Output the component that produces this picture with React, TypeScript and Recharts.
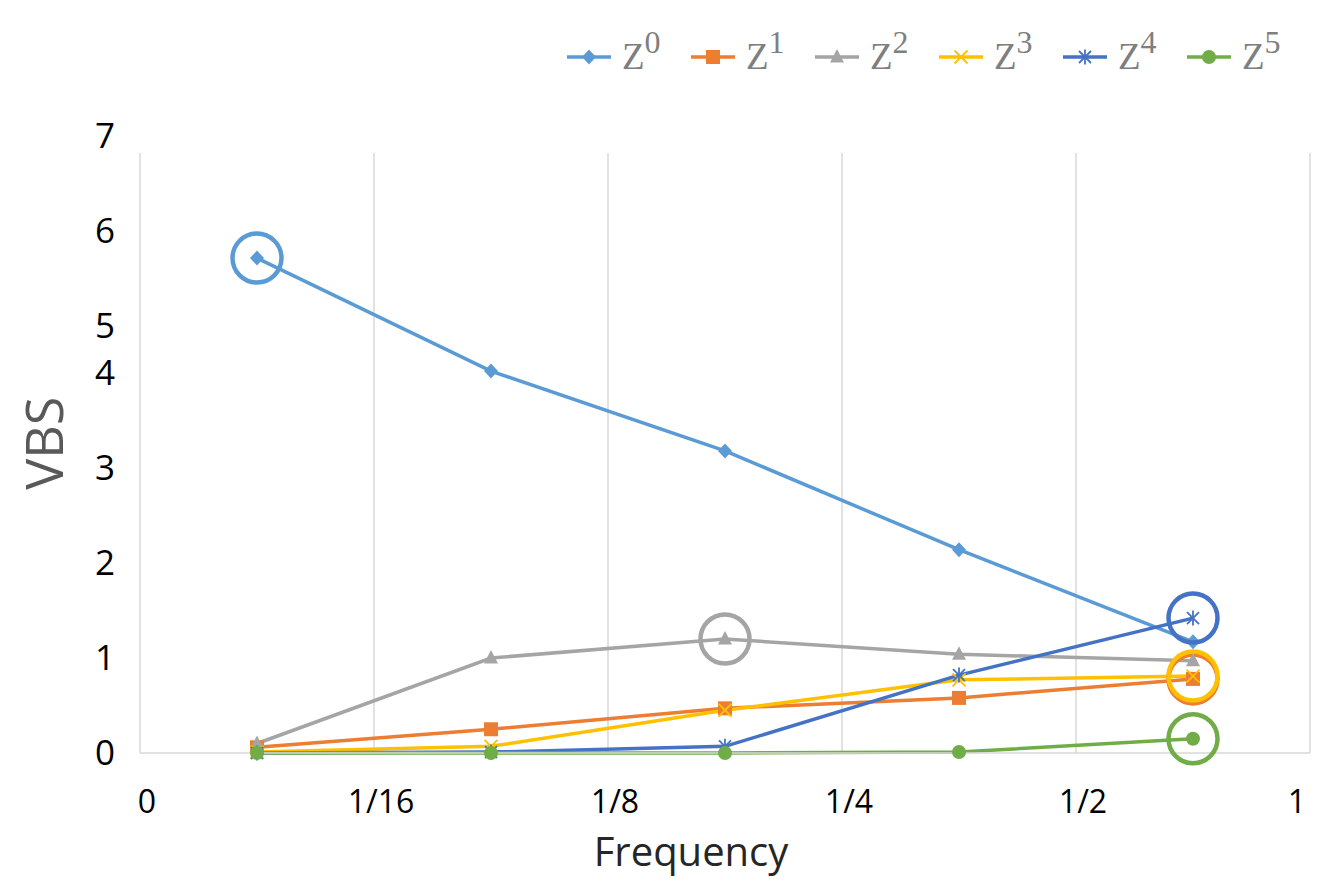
import { CartesianGrid, Label, Legend, Line, LineChart, XAxis, YAxis } from "recharts";

// band boundaries on the x axis (points sit in the middle of each band)
const xLabels = ["0", "1/16", "1/8", "1/4", "1/2", "1"];
const yTicks = [0, 1, 2, 3, 4, 4.5, 5.5, 6.5];
const yLabels = ["0", "1", "2", "3", "4", "5", "6", "7"];

const z0 = [5.21, 4.02, 3.18, 2.14, 1.17];
const z1 = [0.06, 0.25, 0.47, 0.58, 0.78];
const z2 = [0.1, 1.0, 1.2, 1.04, 0.97];
const z3 = [0.01, 0.07, 0.45, 0.77, 0.81];
const z4 = [0.0, 0.01, 0.07, 0.82, 1.42];
const z5 = [0.0, 0.0, 0.0, 0.01, 0.15];

// index of the point that gets a ring around it
const highlight = [0, 4, 2, 4, 4, 4];

const SERIES = [
  { key: "z0", power: "0", color: "#5B9BD5", marker: "diamond", values: z0 },
  { key: "z1", power: "1", color: "#ED7D31", marker: "square", values: z1 },
  { key: "z2", power: "2", color: "#A5A5A5", marker: "triangle", values: z2 },
  { key: "z3", power: "3", color: "#FFC000", marker: "x", values: z3 },
  { key: "z4", power: "4", color: "#4472C4", marker: "star", values: z4 },
  { key: "z5", power: "5", color: "#70AD47", marker: "circle", values: z5 },
];

const rows = z0.map((_, i) => {
  const row: Record<string, number> = { x: i + 0.5 };
  SERIES.forEach((s) => (row[s.key] = s.values[i]));
  return row;
});

const FONT = "'Open Sans', 'DejaVu Sans', sans-serif";

function Marker({ cx, cy, kind, color }: { cx: number; cy: number; kind: string; color: string }) {
  switch (kind) {
    case "diamond":
      return <polygon points={`${cx},${cy - 7.5} ${cx + 7},${cy} ${cx},${cy + 7.5} ${cx - 7},${cy}`} fill={color} />;
    case "square":
      return <rect x={cx - 7} y={cy - 7} width={14} height={14} fill={color} />;
    case "triangle":
      return <polygon points={`${cx},${cy - 8} ${cx + 7},${cy + 5.5} ${cx - 7},${cy + 5.5}`} fill={color} />;
    case "x":
      return (
        <g stroke={color} strokeWidth={1.8}>
          <line x1={cx - 6.5} y1={cy - 6.5} x2={cx + 6.5} y2={cy + 6.5} />
          <line x1={cx - 6.5} y1={cy + 6.5} x2={cx + 6.5} y2={cy - 6.5} />
        </g>
      );
    case "star":
      return (
        <g stroke={color} strokeWidth={1.8}>
          <line x1={cx - 6} y1={cy - 6} x2={cx + 6} y2={cy + 6} />
          <line x1={cx - 6} y1={cy + 6} x2={cx + 6} y2={cy - 6} />
          <line x1={cx} y1={cy - 7.5} x2={cx} y2={cy + 7.5} />
        </g>
      );
    default:
      return <circle cx={cx} cy={cy} r={7} fill={color} />;
  }
}

function makeDot(kind: string, color: string, ringAt: number) {
  return (props: any) => {
    const { cx, cy, index } = props;
    return (
      <g key={`dot-${kind}-${index}`}>
        <Marker cx={cx} cy={cy} kind={kind} color={color} />
        {index === ringAt && <circle cx={cx} cy={cy} r={24.5} fill="none" stroke={color} strokeWidth={4.5} />}
      </g>
    );
  };
}

function XTick({ x, y, payload }: any) {
  const last = payload.value === xLabels.length - 1;
  return (
    <text
      x={last ? x - 4 : x + 7}
      y={y}
      dy="0.71em"
      textAnchor={last ? "end" : "middle"}
      fontSize={32}
      fill="#000"
      fontFamily={FONT}
    >
      {xLabels[payload.value]}
    </text>
  );
}

function YTick({ x, y, payload }: any) {
  return (
    <text x={x} y={y} dy="0.355em" textAnchor="end" fontSize={35} fill="#000" fontFamily={FONT}>
      {yLabels[yTicks.indexOf(payload.value)]}
    </text>
  );
}

function LegendRow() {
  return (
    <div style={{ display: "flex", gap: 29 }}>
      {SERIES.map((s) => (
        <svg key={s.key} width={95} height={50} style={{ overflow: "visible" }}>
          <line x1={0} y1={27} x2={44} y2={27} stroke={s.color} strokeWidth={3.5} />
          <Marker cx={22} cy={27} kind={s.marker} color={s.color} />
          <text x={55} y={39} fontFamily="'Liberation Serif', 'Times New Roman', serif" fontSize={37} fill="#7f7f7f">
            <tspan>Z</tspan>
            <tspan dy={-16} fontSize={32}>{s.power}</tspan>
          </text>
        </svg>
      ))}
    </div>
  );
}

export default function App() {
  return (
    <div style={{ width: 1317, height: 873, position: "relative" }}>
      <LineChart width={1317} height={873} data={rows} margin={{ top: 127.5, right: 15, bottom: 0, left: 0 }}>
        <CartesianGrid horizontal={false} stroke="#d9d9d9" strokeWidth={1.5} y={145} height={600} />
        <XAxis
          dataKey="x"
          type="number"
          domain={[0, 5]}
          ticks={[0, 1, 2, 3, 4, 5]}
          height={128}
          axisLine={{ stroke: "#d9d9d9", strokeWidth: 1.5 }}
          tickLine={false}
          tickSize={0}
          tickMargin={37}
          tick={<XTick />}
        >
          <Label
            content={({ viewBox }: any) => (
              <text
                x={viewBox.x + viewBox.width / 2 - 34}
                y={viewBox.y + 113}
                textAnchor="middle"
                fontSize={40}
                fill="#262626"
                fontFamily={FONT}
              >
                Frequency
              </text>
            )}
          />
        </XAxis>
        <YAxis
          type="number"
          domain={[0, 6.5]}
          ticks={yTicks}
          width={132}
          axisLine={false}
          tickLine={false}
          tickSize={0}
          tickMargin={25}
          tick={<YTick />}
        >
          <Label
            content={({ viewBox }: any) => {
              const cx = viewBox.x + 36;
              const cy = viewBox.y + viewBox.height / 2 - 1;
              return (
                <text
                  x={cx}
                  y={cy}
                  dy="0.36em"
                  transform={`rotate(-90, ${cx}, ${cy})`}
                  textAnchor="middle"
                  fontSize={52}
                  fill="#595959"
                  fontFamily={FONT}
                >
                  VBS
                </text>
              );
            }}
          />
        </YAxis>
        <Legend
          layout="horizontal"
          verticalAlign="middle"
          align="center"
          wrapperStyle={{ top: 22, left: 559, width: "auto" }}
          content={() => <LegendRow />}
        />
        {SERIES.map((s, i) => (
          <Line
            key={s.key}
            type="linear"
            dataKey={s.key}
            stroke={s.color}
            strokeWidth={3.5}
            dot={makeDot(s.marker, s.color, highlight[i])}
            activeDot={false}
            isAnimationActive={false}
          />
        ))}
      </LineChart>
    </div>
  );
}
